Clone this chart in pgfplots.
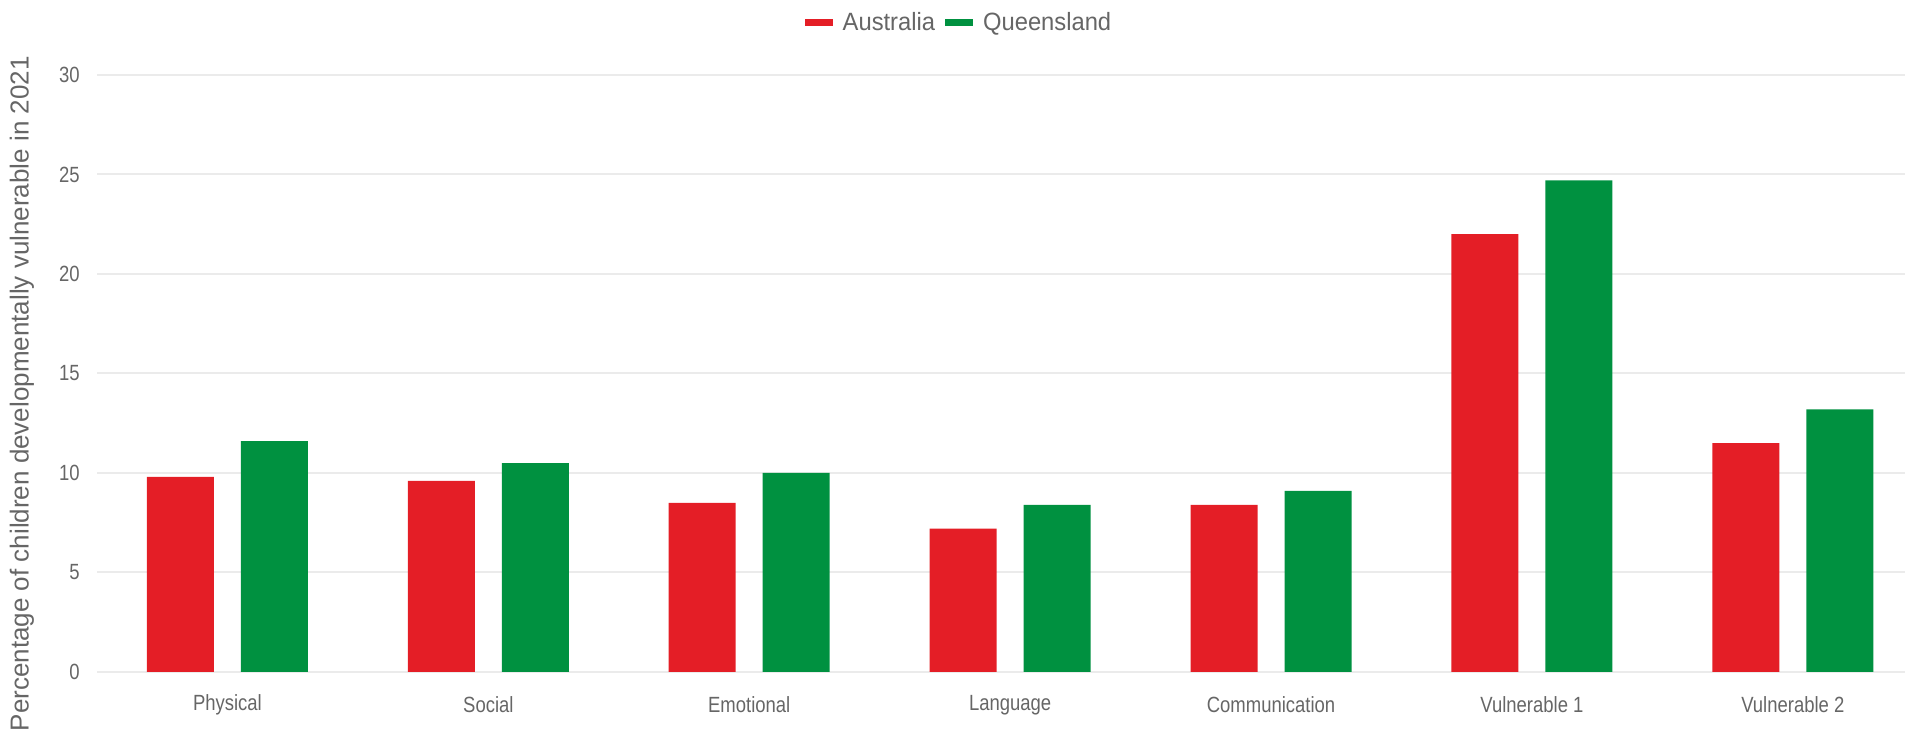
\documentclass[border=0pt]{standalone}
\usepackage{fontspec}
\setmainfont{Liberation Sans}
\newfontfamily\tickfont[FakeStretch=0.84]{Liberation Sans}
\newfontfamily\legfont[FakeStretch=0.95]{Liberation Sans}
\usepackage{pgfplots}
\pgfplotsset{compat=1.18}
\definecolor{ausred}{RGB}{228,30,38}
\definecolor{qldgreen}{RGB}{0,145,64}
\definecolor{txtgray}{RGB}{102,102,102}
\definecolor{gridgray}{RGB}{235,235,235}

\begin{document}
\begin{tikzpicture}
\useasboundingbox (0,0) rectangle (952.5pt,366.5pt);
\begin{axis}[
    at={(48.5pt,30.5pt)}, anchor=south west,
    scale only axis,
    width=904pt, height=298.5pt,
    ybar, bar width=33.5pt,
    xmin=-0.5, xmax=6.43,
    ymin=0, ymax=30,
    xtick={0,...,6},
    xticklabels={Physical,Social,Emotional,Language,Communication,Vulnerable 1,Vulnerable 2},
    ytick={0,5,...,30},
    ymajorgrids=true,
    grid style={gridgray, line width=1pt},
    axis line style={draw=none},
    major tick length=0pt,
    /pgf/number format/assume math mode=true,
    xticklabel style={font=\tickfont\fontsize{11}{13}\selectfont, text=txtgray,
        anchor=center, inner sep=0pt, yshift=-16.5pt},
    yticklabel style={font=\tickfont\fontsize{11}{13}\selectfont, text=txtgray,
        anchor=east, inner sep=0pt, xshift=-8.5pt},
    ylabel={Percentage of children developmentally vulnerable in 2021},
    ylabel style={at={(axis description cs:-0.0415,0.466)}, anchor=center,
        font=\fontsize{13}{15}\selectfont, text=txtgray},
    legend columns=-1,
    legend style={draw=none, at={(axis description cs:0.4773,1.088)}, anchor=center,
        font=\legfont\fontsize{12.5}{14}\selectfont, text=txtgray,
        /tikz/every odd column/.append style={column sep=3pt},
        /tikz/every even column/.append style={column sep=3pt}},
    legend image code/.code={\fill (0pt,-1.75pt) rectangle (14pt,1.75pt);},
]
    % Australia
    \addplot[fill=ausred, draw=none, bar shift=-23.5pt] coordinates {
        (0,9.8) (1,9.6) (2,8.5) (3,7.2) (4,8.4) (5,22.0) (6,11.5)
    };
    % Queensland
    \addplot[fill=qldgreen, draw=none, bar shift=23.5pt] coordinates {
        (0,11.6) (1,10.5) (2,10.0) (3,8.4) (4,9.1) (5,24.7) (6,13.2)
    };
    \legend{Australia, Queensland}
\end{axis}
\end{tikzpicture}
\end{document}
